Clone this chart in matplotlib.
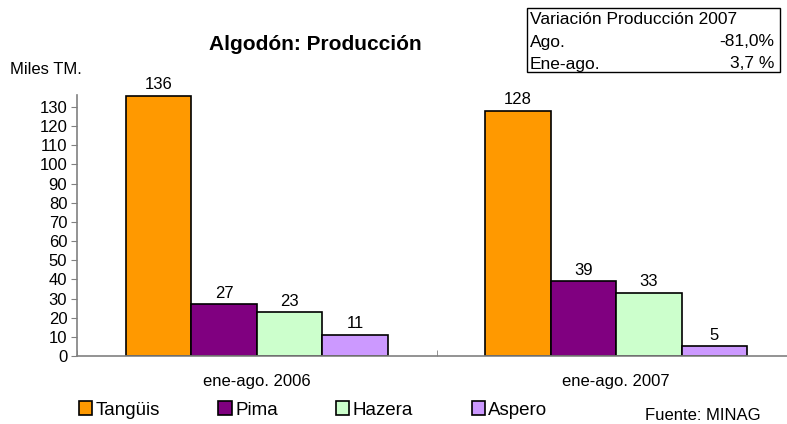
import matplotlib
matplotlib.use("Agg")
import matplotlib.pyplot as plt
from matplotlib.patches import Rectangle, Patch
import numpy as np

plt.rcParams['font.family'] = ['Liberation Sans', 'DejaVu Sans']

categories = ["ene-ago. 2006", "ene-ago. 2007"]
series_names = ["Tangüis", "Pima", "Hazera", "Aspero"]
tanguis = [136, 128]
pima = [27, 39]
hazera = [23, 33]
aspero = [11, 5]
colors = ["#FF9900", "#800080", "#CCFFCC", "#CC99FF"]
yticks = list(range(0, 131, 10))

W, H = 787, 424
fig = plt.figure(figsize=(W / 100, H / 100), dpi=100)
ax_left, ax_right, ax_bottom, ax_top = 77, 796, 356, 94.6
ax = fig.add_axes([ax_left / W, 1 - ax_bottom / H, (ax_right - ax_left) / W, (ax_bottom - ax_top) / H])

x = np.arange(len(categories)) + 0.5
bw = 0.182
all_series = [tanguis, pima, hazera, aspero]
for i, (vals, c, name) in enumerate(zip(all_series, colors, series_names)):
    xs = x + (i - 1.5) * bw
    ax.bar(xs, vals, width=bw, color=c, edgecolor="black", linewidth=1.2, label=name)
    for xx, v in zip(xs, vals):
        ax.text(xx, v + 1.8, f"{v}", ha="center", va="bottom", fontsize=12)

ax.set_xlim(0, 2)
ax.set_ylim(0, 136.5)
ax.set_yticks(yticks)
ax.set_xticks(x)
ax.set_xticklabels(categories, fontsize=12)
ax.set_xticks([0, 1, 2], minor=True)
ax.tick_params(axis="x", which="major", length=0, pad=13)
ax.tick_params(axis="x", which="minor", length=4, color="#808080", direction="in")
ax.tick_params(axis="y", length=4, color="#808080", labelsize=12, pad=3)
for s in ["top", "right"]:
    ax.spines[s].set_visible(False)
for s in ["left", "bottom"]:
    ax.spines[s].set_color("#808080")
    ax.spines[s].set_linewidth(1.2)

fig.text(315 / W, 1 - 45 / H, "Algodón: Producción", ha="center", va="center", fontsize=15, fontweight="bold")
fig.text(10 / W, 1 - 70 / H, "Miles TM.", ha="left", va="center", fontsize=12)

# Info box
fig.add_artist(Rectangle((527 / W, 1 - 72 / H), (780 - 527) / W, (72 - 8) / H,
                         transform=fig.transFigure, fill=False, edgecolor="black", linewidth=1))
fig.text(530 / W, 1 - 20 / H, "Variación Producción 2007", ha="left", va="center", fontsize=12.5)
fig.text(530 / W, 1 - 42 / H, "Ago.", ha="left", va="center", fontsize=12.5)
fig.text(774 / W, 1 - 42 / H, "-81,0%", ha="right", va="center", fontsize=12.5)
fig.text(530 / W, 1 - 64 / H, "Ene-ago.", ha="left", va="center", fontsize=12.5)
fig.text(774 / W, 1 - 64 / H, "3,7 %", ha="right", va="center", fontsize=12.5)

handles = [Patch(facecolor=c, edgecolor="black", linewidth=1.2) for c in colors]
fig.legend(handles, series_names, loc="center left", bbox_to_anchor=(79 / W, 1 - 410 / H),
           ncol=4, frameon=False, fontsize=13.5, handlelength=0.7, handleheight=0.7,
           handletextpad=0.2, columnspacing=3.1, borderpad=0, borderaxespad=0)

fig.text(645 / W, 1 - 415 / H, "Fuente: MINAG", ha="left", va="center", fontsize=12)

fig.savefig("out.png", dpi=100)
